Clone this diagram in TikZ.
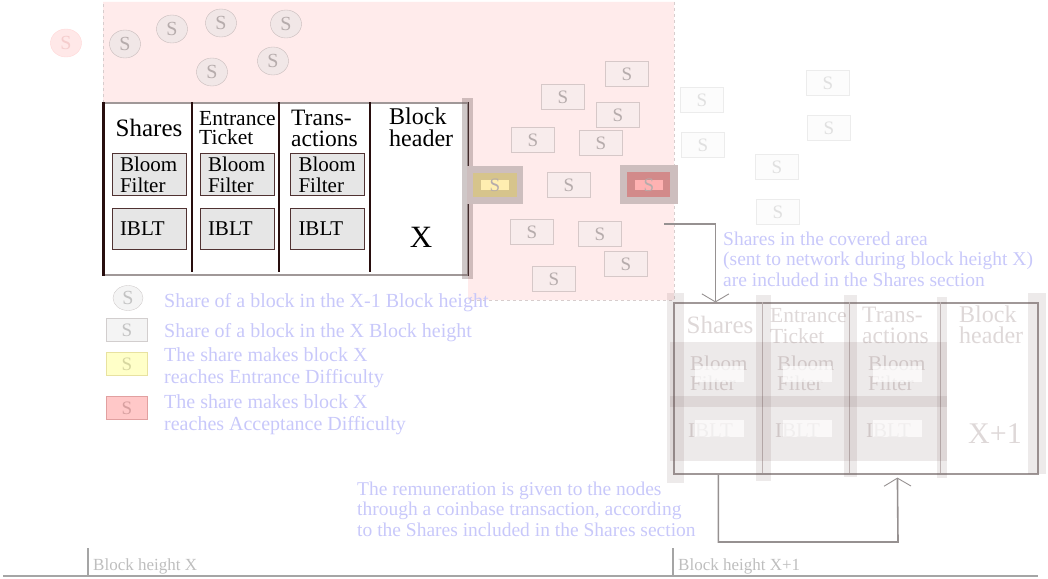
\documentclass[tikz,border=0pt]{standalone}
\usepackage{fontspec}
\setmainfont{Liberation Serif}
\usepackage{tikz}
\usetikzlibrary{arrows.meta, positioning, calc, shapes.geometric}

\definecolor{covered}{RGB}{255,235,235}
\definecolor{coveredline}{RGB}{215,205,205}
\definecolor{notetext}{RGB}{200,200,250}
\definecolor{fadetext}{RGB}{222,216,216}
\definecolor{darkline}{RGB}{40,14,14}
\definecolor{frameline}{RGB}{160,152,152}
\definecolor{sepline}{RGB}{200,192,192}
\definecolor{shrline}{RGB}{200,188,188}
\definecolor{shrfill}{RGB}{241,231,231}
\definecolor{shrtext}{RGB}{182,172,172}
\definecolor{boxline}{RGB}{214,200,200}
\definecolor{boxfill}{RGB}{248,236,236}
\definecolor{faintline}{RGB}{236,236,236}
\definecolor{faintfill}{RGB}{252,252,252}
\definecolor{fainttext}{RGB}{224,224,224}
\definecolor{filtfill}{RGB}{230,230,230}
\definecolor{filtline}{RGB}{80,50,50}
\definecolor{shadebox}{RGB}{205,190,190}
\definecolor{barshade}{RGB}{120,100,100}
\definecolor{veilshade}{RGB}{110,80,80}
\definecolor{ydark}{RGB}{214,196,140}
\definecolor{ylight}{RGB}{255,238,176}
\definecolor{rdark}{RGB}{210,138,138}
\definecolor{rlight}{RGB}{255,178,178}
\definecolor{linkline}{RGB}{150,145,145}
\definecolor{axisline}{RGB}{165,165,165}
\definecolor{axistext}{RGB}{190,190,190}
\definecolor{oldline}{RGB}{255,215,215}
\definecolor{oldfill}{RGB}{255,232,232}
\definecolor{oldtext}{RGB}{245,205,205}
\definecolor{keyline}{RGB}{210,206,206}
\definecolor{keyfill}{RGB}{244,244,244}
\definecolor{keytext}{RGB}{195,195,195}
\definecolor{ykeyline}{RGB}{232,226,160}
\definecolor{ykeyfill}{RGB}{255,255,200}
\definecolor{ykeytext}{RGB}{215,215,160}
\definecolor{rkeyline}{RGB}{225,160,160}
\definecolor{rkeyfill}{RGB}{255,200,200}
\definecolor{rkeytext}{RGB}{215,160,160}

\begin{document}
\begin{tikzpicture}[x=1pt, y=-1pt,
  shrc/.style={ellipse, draw=shrline, fill=shrfill, text=shrtext, minimum width=31pt, minimum height=28pt, inner sep=0pt, font=\fontsize{20}{20}\selectfont},
  shrb/.style={rectangle, draw=boxline, fill=boxfill, text=shrtext, minimum width=43pt, minimum height=25pt, inner sep=0pt, font=\fontsize{19}{19}\selectfont},
  faint/.style={shrb, draw=faintline, fill=faintfill, text=fainttext},
  keyb/.style={shrb, minimum width=41pt, minimum height=23pt},
  filt/.style={rectangle, draw=filtline, fill=filtfill, line width=1pt, minimum width=74pt, minimum height=41pt, text width=58pt, inner xsep=8pt, align=left, font=\fontsize{21}{21}\selectfont},
  hd/.style={anchor=base west, inner sep=0pt, align=left},
  note/.style={anchor=base west, inner sep=0pt, align=left, text=notetext, font=\fontsize{19.5}{20.5}\selectfont},
  lgnd/.style={note, font=\fontsize{20}{21.5}\selectfont},
  veil/.style={fill=veilshade, fill opacity=0.12},
  link/.style={draw=linkline, line width=1.6pt, -{Straight Barb[length=8pt, width=27pt, line width=0.9pt]}},
]
\useasboundingbox (0,0) rectangle (1048,578);

% covered area
\fill[covered] (103,2) -- (674,2) -- (674,300) -- (468,300) -- (468,103) -- (103,103) -- cycle;
\draw[coveredline, dashed] (103,103) -- (103,2);
\draw[coveredline, dashed] (674,2) -- (674,300) -- (468,300);

% shares of height X-1
\node[shrc, draw=oldline, fill=oldfill, text=oldtext] (c0) at (66,43) {S};
\foreach \x/\y [count=\i] in {125/44,172/29,221/23,286/24,212/72,273/61}
  \node[shrc] (c\i) at (\x,\y) {S};

% shares of height X
\foreach \x/\y [count=\i] in {627/74,563/97,618/115,533/140,601/143,569/185,532/232,600/234,626/264,554/279}
  \node[shrb] (s\i) at (\x,\y) {S};
\foreach \x/\y [count=\i] in {702/100,703/145,828/83,829/128,777/167,778/212}
  \node[faint] (f\i) at (\x,\y) {S};

% block X
\node[draw=frameline, line width=1.2pt, fill=white, minimum width=364pt, minimum height=172pt, inner sep=0pt] (bx) at (286,189) {};
\draw[darkline, line width=2.5pt] (bx.north west) -- (bx.south west);
\draw[darkline, line width=1.2pt] (bx.north east) -- (bx.south east);
\foreach \dx in {89,176,267}
  \draw[darkline, line width=2pt] ($(bx.north west)+(\dx,0)$) -- ++(0,170);
\node[hd, anchor=base, font=\fontsize{25}{25}\selectfont] (h1) at (149,136) {Shares};
\node[hd, font=\fontsize{21.5}{19}\selectfont] (h2) at (199,144) {Entrance\\Ticket};
\node[hd, font=\fontsize{23.5}{21}\selectfont] (h3) at (291,146) {Trans-\\actions};
\node[hd, font=\fontsize{24}{22}\selectfont] (h4) at (389,146) {Block\\header};
\node[anchor=base, font=\fontsize{31}{31}\selectfont] (hx) at (421,247) {X};
\foreach \x [count=\i] in {149,237,327.5} {
  \node[filt] (bf\i) at (\x,174.5) {Bloom\\Filter};
  \node[filt] (ib\i) at (\x,228.5) {IBLT};
}
\fill[barshade, fill opacity=0.35] (462,98) rectangle (473,279);

% shares reaching the difficulties
\fill[shadebox] (467,166) rectangle (523,204);
\fill[ydark] (473,173) rectangle (517,197);
\fill[ylight] (481,180) rectangle (509,190);
\node[text=shrtext, font=\fontsize{19}{19}\selectfont] (sy) at (495,185) {S};
\fill[shadebox] (620,165) rectangle (678,204);
\fill[rdark] (627,172) rectangle (670,197);
\fill[rlight] (635,180) rectangle (663,190);
\node[text=shrtext, font=\fontsize{19}{19}\selectfont] (sr) at (649,185) {S};

% block X+1
\node[draw=frameline, line width=1.2pt, minimum width=364pt, minimum height=171pt, inner sep=0pt] (bx1) at (856,388.5) {};
\foreach \dx in {89,176,267}
  \draw[sepline, line width=0.8pt] ($(bx1.north west)+(\dx,0)$) -- ++(0,171);
\begin{scope}[text=fadetext]
\node[hd, anchor=base, font=\fontsize{25}{25}\selectfont] (g1) at (720,333) {Shares};
\node[hd, font=\fontsize{21.5}{21}\selectfont] (g2) at (770,343) {Entrance\\Ticket};
\node[hd, font=\fontsize{23.5}{21}\selectfont] (g3) at (862,343) {Trans-\\actions};
\node[hd, font=\fontsize{24}{21}\selectfont] (g4) at (959,343) {Block\\header};
\foreach \x [count=\i] in {690,777,868} {
  \node[hd, font=\fontsize{21}{20}\selectfont] (gb\i) at (\x,390) {Bloom\\Filter};
  \node[hd, font=\fontsize{21}{21}\selectfont] (gi\i) at (\x-2,437) {IBLT};
}
\node[hd, font=\fontsize{30}{30}\selectfont] (gx) at (968,443) {X+1};
\end{scope}
\foreach \xa/\xb/\ya/\yb in {667/684/293/483,756/771/295/481,844/857/295/477,937/947/297/478,1028/1046/293/474}
  \fill[veil] (\xa,\ya) rectangle (\xb,\yb);
\fill[veil] (670,342) rectangle (947,461);
\fill[veil] (670,396) rectangle (947,407);
\foreach \x in {695,783,873} {
  \fill[white, fill opacity=0.7] (\x,366) rectangle ++(49,16);
  \fill[white, fill opacity=0.7] (\x,420) rectangle ++(49,17);
}

% connectors
\coordinate (cv) at (664,224);
\draw[link] (cv) -| ($(bx1.north west)+(42,0)$);
\coordinate (rm) at (898,542);
\draw[link, shorten >=3pt] ($(bx1.south west)+(45,0)$) |- (rm) -- ($(bx1.south west)+(224,0)$);

% notes
\node[note] (n1) at (723,286) {Shares in the covered area\\(sent to network during block height X)\\are included in the Shares section};
\node[note] (n2) at (357,536) {The remuneration is given to the nodes\\through a coinbase transaction, according\\to the Shares included in the Shares section};

% legend
\node[shrc, draw=keyline, fill=keyfill, text=keytext, minimum width=30pt, minimum height=25pt] (l1) at (128,298) {S};
\node[keyb, draw=keyline, fill=keyfill, text=keytext] (l2) at (127,330) {S};
\node[keyb, draw=ykeyline, fill=ykeyfill, text=ykeytext] (l3) at (127,364) {S};
\node[keyb, draw=rkeyline, fill=rkeyfill, text=rkeytext] (l4) at (127,408) {S};
\node[lgnd] (t1) at (164,307) {Share of a block in the X-1 Block height};
\node[lgnd] (t2) at (164,337) {Share of a block in the X Block height};
\node[lgnd] (t3) at (164,383) {The share makes block X\\reaches Entrance Difficulty};
\node[lgnd] (t4) at (164,430) {The share makes block X\\reaches Acceptance Difficulty};

% block heights
\draw[axisline, line width=1.6pt] (3,576) -- (1038,576);
\foreach \x/\lab [count=\i] in {88/{Block height X},673/{Block height X+1}} {
  \draw[axisline, line width=1.2pt] (\x,548) -- (\x,575);
  \node[anchor=base west, inner sep=0pt, text=axistext, font=\fontsize{17}{17}\selectfont] (bh\i) at (\x+5,570) {\lab};
}
\end{tikzpicture}
\end{document}
